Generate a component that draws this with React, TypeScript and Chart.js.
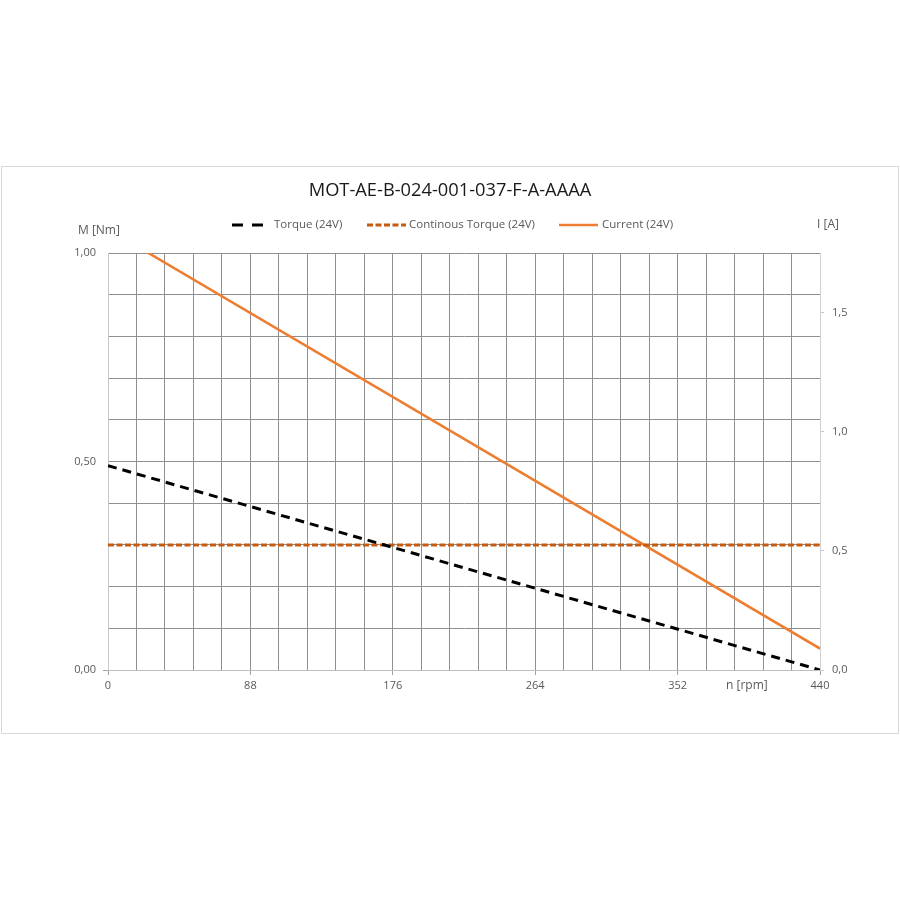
import React, { useEffect, useRef } from "react";
import { Chart, registerables } from "chart.js";

Chart.register(...registerables);

const TITLE = "MOT-AE-B-024-001-037-F-A-AAAA";
const SERIES_NAMES = ["Torque (24V)", "Continous Torque (24V)", "Current (24V)"];
const RPM = [0, 440];
const TORQUE = [0.49, 0];
const CONT_TORQUE = [0.3, 0.3];
const CURRENT = [1.85, 0.09];
const X_LABEL_TICKS = [0, 88, 176, 264, 352, 440];
const LEFT_LABEL_TICKS = [0, 0.5, 1.0];
const RIGHT_LABEL_TICKS = [0, 0.5, 1.0, 1.5];

const FONT = "'Open Sans', sans-serif";
const TEXT = "#595959";

const isIn = (arr: number[], v: number) => arr.some((a) => Math.abs(a - v) < 1e-6);

export default function App() {
  const ref = useRef<HTMLCanvasElement | null>(null);

  useEffect(() => {
    if (!ref.current) return;
    const toPts = (ys: number[]) => RPM.map((x, i) => ({ x, y: ys[i] }));

    const overlay = {
      id: "overlay",
      afterDraw(chart: any) {
        const ctx = chart.ctx as CanvasRenderingContext2D;
        const area = chart.chartArea;
        ctx.save();
        // title
        ctx.fillStyle = "#1a1a1a";
        ctx.font = `18.3px ${FONT}`;
        ctx.textAlign = "center";
        ctx.textBaseline = "middle";
        ctx.fillText(TITLE, 448, 24);
        // legend
        ctx.font = `11.5px ${FONT}`;
        ctx.textAlign = "left";
        const ly = 58;
        const items = [
          { x1: 230, x2: 262, tx: 272, color: "#000000", w: 3, dash: [11, 9] },
          { x1: 365, x2: 404, tx: 407, color: "#C55A11", w: 3, dash: [6, 2.5] },
          { x1: 557, x2: 596, tx: 600, color: "#ED7D31", w: 2.5, dash: [] as number[] },
        ];
        items.forEach((it, i) => {
          ctx.strokeStyle = it.color;
          ctx.lineWidth = it.w;
          ctx.setLineDash(it.dash);
          ctx.beginPath();
          ctx.moveTo(it.x1, ly);
          ctx.lineTo(it.x2, ly);
          ctx.stroke();
          ctx.setLineDash([]);
          ctx.fillStyle = TEXT;
          ctx.fillText(SERIES_NAMES[i], it.tx, ly);
        });
        // axis titles
        ctx.font = `12px ${FONT}`;
        ctx.fillStyle = TEXT;
        ctx.textAlign = "left";
        ctx.fillText("M [Nm]", 76, 64);
        ctx.fillText("I [A]", 815, 58);
        ctx.fillText("n [rpm]", 724, area.bottom + 16);
        ctx.restore();
      },
    };

    const chart = new Chart(ref.current, {
      type: "line",
      data: {
        datasets: [
          {
            label: SERIES_NAMES[0],
            data: toPts(TORQUE),
            borderColor: "#000000",
            borderWidth: 3,
            borderDash: [9, 6],
            pointRadius: 0,
            yAxisID: "y",
          },
          {
            label: SERIES_NAMES[1],
            data: toPts(CONT_TORQUE),
            borderColor: "#C55A11",
            borderWidth: 3,
            borderDash: [6, 2.5],
            pointRadius: 0,
            yAxisID: "y",
          },
          {
            label: SERIES_NAMES[2],
            data: toPts(CURRENT),
            borderColor: "#ED7D31",
            borderWidth: 2.5,
            pointRadius: 0,
            yAxisID: "y1",
          },
        ],
      },
      options: {
        animation: false,
        responsive: false,
        maintainAspectRatio: false,
        layout: { padding: { top: 86, left: 0, right: 0, bottom: 0 } },
        plugins: {
          legend: { display: false },
          title: { display: false },
          tooltip: { enabled: false },
        },
        scales: {
          x: {
            type: "linear",
            min: 0,
            max: 440,
            ticks: {
              stepSize: 17.6,
              autoSkip: false,
              maxRotation: 0,
              padding: 4,
              color: TEXT,
              font: { family: FONT, size: 11 },
              callback: (v: any) => (isIn(X_LABEL_TICKS, Number(v)) ? String(Math.round(Number(v))) : ""),
            },
            grid: {
              color: (c: any) => (c.tick && Math.abs(c.tick.value - 440) < 1e-6 ? "#d0d0d0" : "#8f8f8f"),
              tickColor: (c: any) => (c.tick && isIn(X_LABEL_TICKS, c.tick.value) ? "#a0a0a0" : "rgba(0,0,0,0)"),
              tickLength: 5,
            },
            border: { color: "#bfbfbf" },
            afterFit: (s: any) => {
              s.height = 63;
            },
          },
          y: {
            type: "linear",
            position: "left",
            min: 0,
            max: 1,
            ticks: {
              stepSize: 0.1,
              autoSkip: false,
              padding: 7,
              color: TEXT,
              font: { family: FONT, size: 11 },
              callback: (v: any) => (isIn(LEFT_LABEL_TICKS, Number(v)) ? Number(v).toFixed(2).replace(".", ",") : ""),
            },
            grid: {
              color: "#8f8f8f",
              tickColor: (c: any) => (c.tick && Math.abs(c.tick.value) < 1e-6 ? "#a0a0a0" : "rgba(0,0,0,0)"),
              tickLength: 5,
            },
            border: { color: "#c8c8c8" },
            afterFit: (s: any) => {
              s.width = 106;
            },
          },
          y1: {
            type: "linear",
            position: "right",
            min: 0,
            max: 1.75,
            afterBuildTicks: (s: any) => {
              s.ticks = RIGHT_LABEL_TICKS.map((v) => ({ value: v }));
            },
            ticks: {
              padding: 8,
              color: TEXT,
              font: { family: FONT, size: 11 },
              callback: (v: any) => Number(v).toFixed(1).replace(".", ","),
            },
            grid: {
              drawOnChartArea: false,
              tickColor: "#c8c8c8",
              tickLength: 4,
            },
            border: { color: "#d0d0d0" },
            afterFit: (s: any) => {
              s.width = 78;
            },
          },
        },
      },
      plugins: [overlay],
    } as any);
    return () => chart.destroy();
  }, []);

  return (
    <div style={{ position: "absolute", left: 0, top: 0, width: 900, height: 900, background: "#fff" }}>
      <div
        style={{
          position: "absolute",
          left: 1,
          top: 166,
          width: 898,
          height: 568,
          boxSizing: "border-box",
          border: "1px solid #d9d9d9",
        }}
      >
        <canvas ref={ref} width={896} height={566} style={{ display: "block", width: 896, height: 566 }} />
      </div>
    </div>
  );
}
